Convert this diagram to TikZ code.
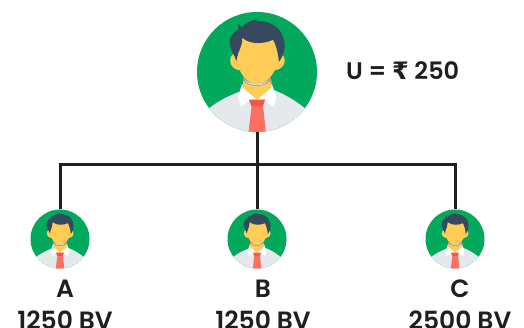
\documentclass[tikz,border=0pt]{standalone}
\usepackage{fontspec}
\setmainfont[UprightFont=* Medium,BoldFont=* SemiBold]{Poppins}
\newfontfamily\rupee{DejaVu Sans}[BoldFont=* Bold]
\definecolor{gr}{HTML}{02A85C}
\definecolor{shirt}{HTML}{E5E8EC}
\definecolor{skin}{HTML}{FFCC55}
\definecolor{shade}{HTML}{E9B65C}
\definecolor{hair}{HTML}{36495E}
\definecolor{tie}{HTML}{FF6F61}
\definecolor{knot}{HTML}{F0594B}
\definecolor{ink}{HTML}{1F1F1F}
\tikzset{
  person/.style={circle,inner sep=0pt,fill=gr,minimum size=#1},
  wire/.style={draw=ink,line width=3pt},
  lab/.style={text=ink,font=\bfseries\fontsize{25}{28}\selectfont,inner sep=0pt},
  ulab/.style={text=ink,font=\bfseries\fontsize{24}{28}\selectfont,inner sep=0pt}
}
% #1,#2 centre; #3 unit (1/3 px on the large figure)
\newcommand{\avatarfig}[3]{%
\begin{scope}[shift={(#1pt,#2pt)},x=#3pt,y=-#3pt,shift={(-232,-215)}]
  \begin{scope}
    \clip (232,215) circle (180);
    \fill[shirt] (70,340) .. controls (105,305) and (150,285) .. (185,272)
       -- (280,268) .. controls (315,282) and (350,300) .. (395,340) -- (395,420) -- (70,420) -- cycle;
    \fill[tie] (216,316) -- (250,316) -- (259,400) -- (206,400) -- cycle;
  \end{scope}
  \fill[white] (187,252) -- (175,290) -- (184,320) -- (213,298) -- (252,298) -- (281,320) -- (290,290) -- (277,252) -- cycle;
  \fill[skin] (190,215) -- (190,262) -- (232,298) -- (275,262) -- (275,215) -- cycle;
  \fill[shade] (190,225) -- (190,238) .. controls (205,262) and (255,262) .. (275,238) -- (275,225) -- cycle;
  \fill[knot] (208,298) -- (256,298) -- (250,318) -- (215,318) -- cycle;
  \fill[skin] (165,160) .. controls (145,165) and (145,205) .. (180,210) -- (180,160) -- cycle;
  \fill[skin] (300,160) .. controls (322,165) and (322,205) .. (285,210) -- (285,160) -- cycle;
  \fill[skin] (171,110) -- (171,175) .. controls (175,220) and (205,250) .. (232,250)
     .. controls (258,250) and (292,220) .. (295,175) -- (295,110) -- cycle;
  \fill[hair] (170,182) .. controls (165,165) and (150,145) .. (150,125)
     .. controls (150,105) and (165,95) .. (176,88) -- (176,70) -- (186,82)
     .. controls (195,68) and (215,60) .. (240,55) -- (225,63)
     .. controls (260,58) and (300,75) .. (310,110)
     .. controls (320,135) and (315,160) .. (298,185)
     .. controls (295,160) and (292,140) .. (280,118)
     .. controls (260,130) and (210,135) .. (188,112)
     .. controls (190,135) and (175,150) .. (170,182) -- cycle;
\end{scope}}
\begin{document}
\begin{tikzpicture}[x=1pt,y=1pt]
\useasboundingbox (0,0) rectangle (524,328);
\fill[white] (0,0) rectangle (524,328);
\coordinate (hub) at (257,163);
\node[person=120pt] (big) at (257,256) {};
\node[person=59pt] (pa) at (60,89) {};
\node[person=59pt] (pb) at (257,89) {};
\node[person=59pt] (pc) at (455,89) {};
\draw[wire] (big.south) -- (pb.north);
\draw[wire] (pa.north) |- (hub) -| (pc.north);
\avatarfig{257}{256}{0.3333}
\avatarfig{60}{89}{0.1639}
\avatarfig{257}{89}{0.1639}
\avatarfig{455}{89}{0.1639}
\node[ulab,anchor=west] (u) at (346,257) {U = {\rupee\bfseries ₹} 250};
\node[lab] (la) at (65,39) {A};
\node[lab] (lb) at (263,39) {B};
\node[lab] (lc) at (460,39) {C};
\node[lab] (va) at (65,8) {1250 BV};
\node[lab] (vb) at (263,8) {1250 BV};
\node[lab] (vc) at (460,8) {2500 BV};
\end{tikzpicture}
\end{document}
